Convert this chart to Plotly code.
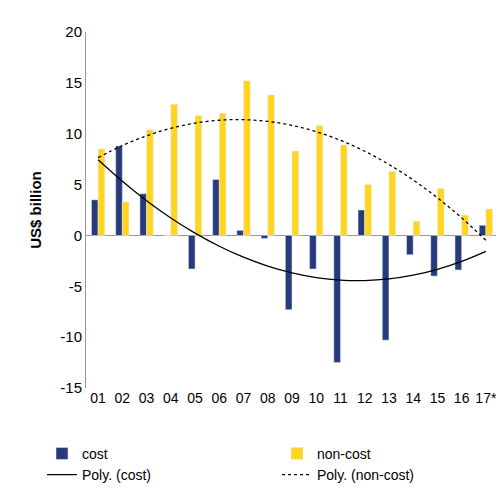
import numpy as np
import plotly.graph_objects as go

cats = ["01","02","03","04","05","06","07","08","09","10","11","12","13","14","15","16","17*"]
cost = [3.5,8.8,4.1,0,-3.3,5.5,0.5,-0.3,-7.3,-3.3,-12.5,2.5,-10.3,-1.9,-4.0,-3.4,1.0]
noncost = [8.5,3.3,10.4,12.9,11.8,12.0,15.2,13.8,8.3,10.8,8.9,5.0,6.3,1.4,4.6,2.0,2.6]
yticks = [-15, -10, -5, 0, 5, 10, 15, 20]

idx = np.arange(1, len(cats)+1)
pc = np.polyval(np.polyfit(idx, cost, 2), idx)
pn = np.polyval(np.polyfit(idx, noncost, 2), idx)

fig = go.Figure()
fig.add_bar(x=cats, y=cost, name="cost", marker_color="#283A7C")
fig.add_bar(x=cats, y=noncost, name="non-cost", marker_color="#FFD520")
fig.add_scatter(x=cats, y=pc, mode="lines", name="Poly. (cost)", line=dict(color="black", width=1.3, shape="spline"))
fig.add_scatter(x=cats, y=pn, mode="lines", name="Poly. (non-cost)", line=dict(color="black", width=1.3, dash="dot", shape="spline"))

fig.update_layout(
    width=504, height=495, margin=dict(l=78, r=14, t=24, b=102),
    plot_bgcolor="white", paper_bgcolor="white",
    font=dict(family="Liberation Sans, Arial", size=15, color="black"),
    bargap=0.45, bargroupgap=0,
    legend=dict(orientation="h", x=-0.03, y=-0.14, yanchor="top", entrywidth=190, font=dict(size=14)),
)
fig.update_xaxes(showline=False, ticks="", showgrid=False, tickfont=dict(size=14))
fig.update_yaxes(range=[-15, 20], tickvals=yticks, ticktext=[str(v) for v in yticks],
                 showgrid=False, showline=True, linecolor="#999",
                 zeroline=True, zerolinecolor="#999", zerolinewidth=1,
                 title=dict(text="<b>US$ billion</b>", font=dict(size=15)))
fig.write_html("out.html")
